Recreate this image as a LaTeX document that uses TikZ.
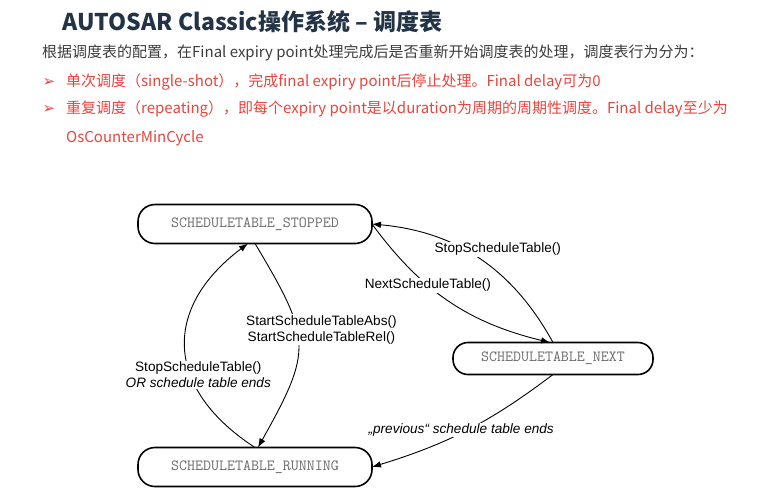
\documentclass[tikz,border=0pt]{standalone}
\usepackage{fontspec}
\setmainfont{Liberation Sans}
\newfontfamily\cjk{Noto Sans CJK SC}
\newfontfamily\sym{DejaVu Sans}
\usetikzlibrary{positioning}
\usetikzlibrary{arrows.meta}
\definecolor{titleblue}{HTML}{243447}
\definecolor{bodygray}{HTML}{3C3C3C}
\definecolor{bulletred}{HTML}{E8453C}
\definecolor{stategray}{HTML}{6A6A6A}
\tikzset{
    statebox/.style={
        draw,rectangle,rounded corners=17pt,
        line width=1.6pt,text=stategray,
        minimum width=#1,minimum height=39pt,
        inner sep=0pt,outer sep=0pt,
        font=\fontsize{15.5}{18}\selectfont\ttfamily,
        },
    smallstatebox/.style={
        statebox=#1,minimum height=32pt,rounded corners=15pt,
        },
    transition/.style={-{Latex[length=9pt,width=6.5pt]},line width=0.9pt},
    translabel/.style={
        fill=white,inner sep=1pt,align=center,
        font=\fontsize{13.6}{16.5}\selectfont,
        },
    headline/.style={
        anchor=west,inner sep=0pt,
        font=\cjk\fontsize{15}{18}\selectfont,
        },
    bullet/.style={
        inner sep=0pt,text=bulletred,
        font=\sym\fontsize{15}{18}\selectfont,
        }
    }

\begin{document}
\begin{tikzpicture}[x=1pt,y=-1pt]
    \useasboundingbox[fill=white] (0,0) rectangle (759,496);
    % header text
    \node[anchor=west,inner sep=0pt,text=titleblue,font=\cjk\bfseries\fontsize{23}{27}\selectfont] (title) at (62,22) {AUTOSAR Classic操作系统 – 调度表};
    \node[headline,text=bodygray] (intro) at (42,53) {根据调度表的配置，在Final expiry point处理完成后是否重新开始调度表的处理，调度表行为分为：};
    \node[headline,text=bulletred] (single) at (66,82) {单次调度（single-shot），完成final expiry point后停止处理。Final delay可为0};
    \node[bullet] (b1) at (49,82) {➢};
    \node[headline,text=bulletred] (repeat) at (66,109) {重复调度（repeating），即每个expiry point是以duration为周期的周期性调度。Final delay至少为};
    \node[bullet] (b2) at (49,109) {➢};
    \node[headline,text=bulletred] (mincycle) at (66,138) {OsCounterMinCycle};
    % states
    \node[statebox=234pt] (stopped) at (255,224) {SCHEDULETABLE\_STOPPED};
    \node[statebox=234pt] (running) [below=204pt of stopped] {SCHEDULETABLE\_RUNNING};
    \node[smallstatebox=200pt] (next) [below right=99pt and 81pt of stopped] {SCHEDULETABLE\_NEXT};
    % transitions
    \draw[transition] (running.north) to[bend left=55,looseness=1.35] node[translabel,pos=0.5,xshift=13pt,yshift=-27pt] (lstop) {StopScheduleTable()\\\textit{OR schedule table ends}} ([xshift=-7pt]stopped.south);
    \draw[transition] (stopped.south) to[bend left=30,looseness=1.4] node[translabel,pos=0.5,xshift=23pt,yshift=15pt] (lstart) {StartScheduleTableAbs()\\StartScheduleTableRel()} ([xshift=3pt]running.north);
    \draw[transition] (stopped.east) to[bend right=20] node[translabel,pos=0.37] (lnext) {NextScheduleTable()} ([xshift=-3pt]next.north);
    \draw[transition] (next.north) to[bend right=28] node[translabel,pos=0.5,xshift=19pt,yshift=9pt] (lstopnext) {StopScheduleTable()} (stopped.east);
    \draw[transition] (next.south) to[bend left=10] node[translabel,pos=0.5,xshift=-6pt] (lprev) {\itshape „previous“ schedule table ends} (running.east);
\end{tikzpicture}
\end{document}
